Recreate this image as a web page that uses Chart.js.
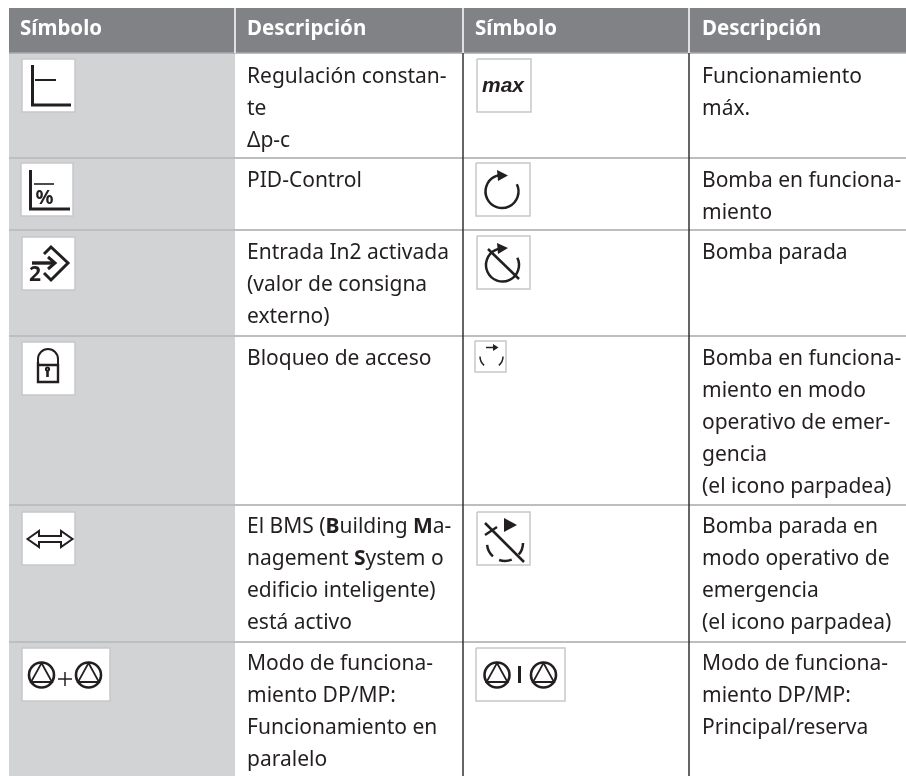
<!DOCTYPE html>
<html>
<head>
<meta charset="utf-8">
<style>html,body{margin:0;background:#fff}canvas{display:block}</style>
<script src="https://cdn.jsdelivr.net/npm/chart.js@4/dist/chart.umd.min.js"></script>
</head>
<body>
<canvas id="tbl" width="906" height="776"></canvas>
<script>
const headers = ["Símbolo", "Descripción", "Símbolo", "Descripción"];
// ** marks a bold run
const leftText = [
    ["Regulación constan-", "te", "Δp-c"],
    ["PID-Control"],
    ["Entrada In2 activada", "(valor de consigna", "externo)"],
    ["Bloqueo de acceso"],
    ["El BMS (**B**uilding **M**a-", "nagement **S**ystem o", "edificio inteligente)", "está activo"],
    ["Modo de funciona-", "miento DP/MP:", "Funcionamiento en", "paralelo"]
];
const rightText = [
    ["Funcionamiento", "máx."],
    ["Bomba en funciona-", "miento"],
    ["Bomba parada"],
    ["Bomba en funciona-", "miento en modo", "operativo de emer-", "gencia", "(el icono parpadea)"],
    ["Bomba parada en", "modo operativo de", "emergencia", "(el icono parpadea)"],
    ["Modo de funciona-", "miento DP/MP:", "Principal/reserva"]
];
const rowEdges = [53, 158, 230, 336, 505, 642];
const baselines = [83, 187, 259, 365, 533, 670];
const colEdges = [9, 235, 463, 689, 906];
const textX = [20, 247, 475, 702];
const iconBoxes = [
    [22, 59, 75, 112], [21, 163, 73, 216], [22, 237, 75, 290], [22, 342, 75, 395], [22, 512, 75, 565], [22, 648, 110, 701],
    [477, 59, 531, 112], [476, 163, 530, 216], [477, 236, 530, 289], [475, 341, 506, 372], [477, 512, 530, 565], [476, 648, 565, 701]
];

const FONT = '"Noto Sans"';
const INK = "#231f20";
const PITCH = 32;
const BOTTOM = 776;

function rect(x0, y0, x1, y1, fill, border, w) {
    return {
        data: [{x: x0, y: y0}, {x: x1, y: y0}, {x: x1, y: y1}, {x: x0, y: y1}, {x: x0, y: y0}],
        backgroundColor: fill, fill: "shape", borderColor: border || fill, borderWidth: w || 0, tension: 0
    };
}
function rule(x0, y0, x1, y1, color, w) {
    return {data: [{x: x0, y: y0}, {x: x1, y: y1}], borderColor: color, borderWidth: w, fill: false};
}

// paint order, reversed at the end because chart.js paints the first dataset last
const layers = [];
layers.push(rect(colEdges[0], rowEdges[0], colEdges[1], BOTTOM, "#d1d3d4"));
layers.push(rect(colEdges[0], 8, colEdges[4], rowEdges[0], "#808285"));
rowEdges.slice(1).forEach(y => {
    layers.push(rule(colEdges[0], y, colEdges[1], y, "#bcbec0", 2));
    layers.push(rule(colEdges[1], y, colEdges[4], y, "#bcbec0", 2));
});
layers.push(rule(colEdges[0], rowEdges[0], colEdges[4], rowEdges[0], "#a7a9ac", 1.5));
[colEdges[2], colEdges[3]].forEach(x => layers.push(rule(x, rowEdges[0], x, BOTTOM, "#333335", 1.5)));
colEdges.slice(1, 4).forEach(x => layers.push(rule(x, 8, x, rowEdges[0], "#ffffff", 1.5)));
iconBoxes.forEach(b => layers.push(rect(b[0], b[1], b[2], b[3], "#ffffff", "#c7c8ca", 1.5)));

function drawRuns(ctx, line, x, y) {
    line.split("**").forEach((run, i) => {
        ctx.font = (i % 2 ? "bold " : "") + "21px " + FONT;
        ctx.fillText(run, x, y);
        x += ctx.measureText(run).width;
    });
}

const tablePlugin = {
    id: "tableText",
    afterDatasetsDraw(chart) {
        const {ctx, scales} = chart;
        const px = v => scales.x.getPixelForValue(v);
        const py = v => scales.y.getPixelForValue(v);
        ctx.save();
        ctx.textBaseline = "alphabetic";
        ctx.fillStyle = "#ffffff";
        ctx.font = "bold 20.5px " + FONT;
        headers.forEach((h, i) => ctx.fillText(h, px(textX[i]), py(35)));
        ctx.fillStyle = INK;
        leftText.forEach((lines, r) => lines.forEach((l, i) => drawRuns(ctx, l, px(textX[1]), py(baselines[r] + i * PITCH))));
        rightText.forEach((lines, r) => lines.forEach((l, i) => drawRuns(ctx, l, px(textX[3]), py(baselines[r] + i * PITCH))));
        drawIcons(ctx, px, py);
        ctx.restore();
    }
};

function drawIcons(ctx, px, py) {
    ctx.strokeStyle = INK;
    ctx.fillStyle = INK;
    ctx.lineJoin = "miter";
    const poly = (pts, w, close) => {
        ctx.beginPath();
        pts.forEach((p, i) => i ? ctx.lineTo(px(p[0]), py(p[1])) : ctx.moveTo(px(p[0]), py(p[1])));
        if (close) ctx.closePath();
        ctx.lineWidth = w;
        ctx.stroke();
    };
    const solid = pts => {
        ctx.beginPath();
        pts.forEach((p, i) => i ? ctx.lineTo(px(p[0]), py(p[1])) : ctx.moveTo(px(p[0]), py(p[1])));
        ctx.closePath();
        ctx.fill();
    };
    const arc = (cx, cy, r, a0, a1, w) => {
        ctx.beginPath();
        ctx.arc(px(cx), py(cy), r, a0 * Math.PI / 180, a1 * Math.PI / 180);
        ctx.lineWidth = w;
        ctx.stroke();
    };
    const pumpGlyph = (cx, cy) => {
        arc(cx, cy, 12.5, 0, 360, 2.6);
        poly([[cx, cy - 12], [cx + 10.5, cy + 7], [cx - 10.5, cy + 7]], 1.8, true);
    };

    // constant pressure
    poly([[32.5, 65], [32.5, 105], [71, 105]], 3);
    poly([[35, 80], [56, 80]], 2);
    // PID
    poly([[30.5, 170], [30.5, 209], [70, 209]], 3);
    poly([[34, 184], [54, 184]], 1.6);
    ctx.font = "bold 20px " + FONT;
    ctx.fillText("%", px(35.5), py(204));
    // input 2
    poly([[44, 254], [51, 247], [68, 263], [51, 280], [44, 273]], 3);
    poly([[32, 263], [54, 263]], 3.4);
    poly([[48, 257], [55, 263], [48, 269]], 3);
    ctx.font = "bold 21px " + FONT;
    ctx.fillText("2", px(29), py(281));
    // lock
    poly([[38, 362], [38, 382], [58, 382], [58, 365], [38, 365]], 2.4);
    arc(48, 359, 10, 180, 360, 2);
    poly([[38, 359], [38, 365]], 2);
    poly([[58, 359], [58, 365]], 2);
    arc(47.5, 369, 1.6, 0, 360, 2);
    poly([[47.5, 370], [47.5, 377]], 2.6);
    // BMS arrows
    poly([[27.5, 539], [39, 531], [39, 536], [61, 536], [61, 531], [72.5, 539], [61, 547], [61, 542], [39, 542], [39, 547]], 2, true);
    // parallel
    pumpGlyph(41.5, 675);
    poly([[58, 679], [72, 679]], 1.5);
    poly([[65, 672], [65, 686]], 1.5);
    pumpGlyph(88.5, 675);
    // max
    ctx.font = "italic bold 21px 'Liberation Sans'";
    ctx.fillText("max", px(482), py(92));
    // pump running
    arc(502, 191.5, 16.5, -26, 258, 2.5);
    solid([[497, 170], [508, 175.5], [498, 181]]);
    // pump stopped
    arc(502.5, 265, 16.5, -26, 258, 2.5);
    solid([[497, 243], [508, 248], [498, 254]]);
    poly([[488, 249], [519, 279]], 2.5);
    // running, emergency mode
    poly([[486, 347.5], [494, 347.5]], 1.5);
    solid([[493, 344], [498.5, 347.5], [493, 351]]);
    arc(491.5, 356.5, 11.5, 130, 180, 1.5);
    arc(491.5, 356.5, 11.5, 0, 50, 1.5);
    // stopped, emergency mode
    solid([[504, 518], [517, 525], [504, 532]]);
    poly([[485, 523], [524, 562]], 2.5);
    poly([[485, 535], [497, 527]], 2.5);
    arc(505, 543, 18, 132, 174, 2.5);
    arc(505, 543, 18, 68, 109, 2.5);
    arc(505, 543, 18, 0, 40, 2.5);
    // main / standby
    pumpGlyph(497, 675);
    poly([[519.5, 666], [519.5, 683]], 3);
    pumpGlyph(543.5, 675);
}

new Chart(document.getElementById("tbl"), {
    type: "line",
    data: {datasets: layers.reverse()},
    options: {
        responsive: false,
        animation: false,
        layout: {padding: 0},
        elements: {point: {radius: 0}, line: {tension: 0, borderCapStyle: "butt"}},
        plugins: {legend: {display: false}, tooltip: {enabled: false}},
        events: [],
        scales: {
            x: {type: "linear", min: 0, max: 906, display: false},
            y: {type: "linear", min: 0, max: 776, reverse: true, display: false}
        }
    },
    plugins: [tablePlugin]
});
</script>
</body>
</html>
